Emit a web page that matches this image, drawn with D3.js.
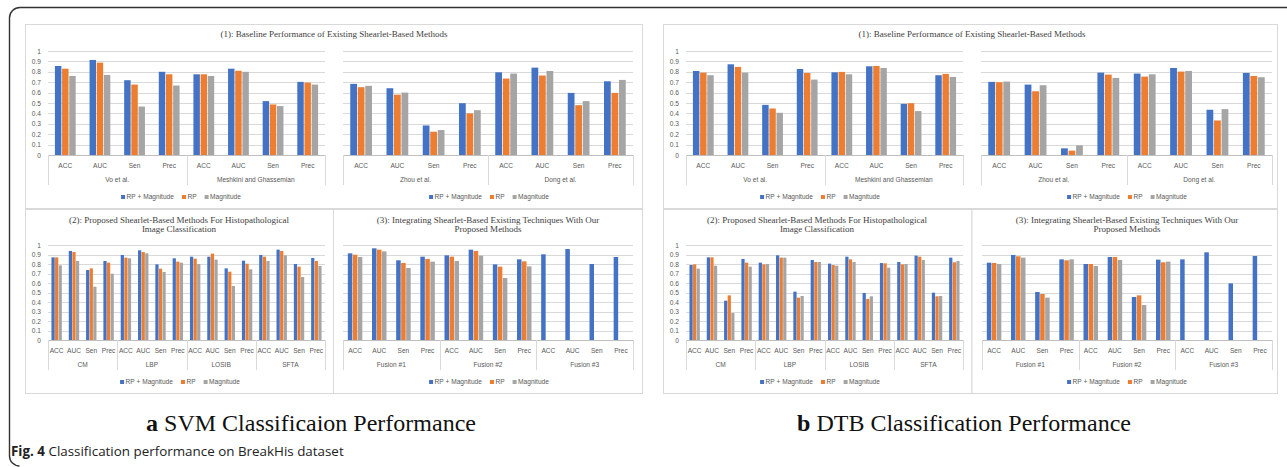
<!DOCTYPE html>
<html><head><meta charset="utf-8">
<script src="https://cdn.jsdelivr.net/npm/d3@7"></script>
<style>
html,body{margin:0;padding:0;background:#fff;}
svg{display:block;}
</style></head><body>
<svg id="fig" width="1287" height="467"></svg>
<script>
// ---- categories, series and tick labels ----
const metrics = ["ACC", "AUC", "Sen", "Prec"];
const seriesNames = ["RP + Magnitude", "RP", "Magnitude"];
const yTickLabels = ["0", "0.1", "0.2", "0.3", "0.4", "0.5", "0.6", "0.7", "0.8", "0.9", "1"];

const baselineGroupsL = ["Vo et al.", "Meshkini and Ghassemian"];
const baselineGroupsR = ["Zhou et al.", "Dong et al."];
const proposedGroups = ["CM", "LBP", "LOSIB", "SFTA"];
const fusionGroups = ["Fusion #1", "Fusion #2", "Fusion #3"];

// ---- (a) SVM results ----
const svmBaseL_rpMag = [0.856, 0.914, 0.719, 0.800, 0.776, 0.830, 0.518, 0.703];
const svmBaseL_rp    = [0.830, 0.888, 0.677, 0.776, 0.776, 0.810, 0.486, 0.696];
const svmBaseL_mag   = [0.760, 0.770, 0.466, 0.668, 0.760, 0.800, 0.470, 0.677];

const svmBaseR_rpMag = [0.684, 0.642, 0.284, 0.498, 0.795, 0.840, 0.597, 0.709];
const svmBaseR_rp    = [0.652, 0.580, 0.224, 0.400, 0.735, 0.764, 0.479, 0.597];
const svmBaseR_mag   = [0.665, 0.600, 0.240, 0.431, 0.783, 0.808, 0.518, 0.722];

const svmProp_rpMag = [0.870, 0.937, 0.737, 0.832, 0.895, 0.944, 0.796, 0.860, 0.877, 0.877, 0.754, 0.835, 0.895, 0.951, 0.800, 0.863];
const svmProp_rp    = [0.870, 0.926, 0.754, 0.814, 0.867, 0.926, 0.751, 0.825, 0.856, 0.909, 0.719, 0.803, 0.877, 0.937, 0.772, 0.832];
const svmProp_mag   = [0.786, 0.832, 0.561, 0.698, 0.860, 0.912, 0.716, 0.814, 0.800, 0.846, 0.568, 0.744, 0.832, 0.891, 0.663, 0.779];

const svmFus_rpMag = [0.912, 0.965, 0.839, 0.877, 0.891, 0.951, 0.796, 0.849, 0.902, 0.958, 0.800, 0.874];
const svmFus_rp    = [0.898, 0.951, 0.811, 0.853, 0.877, 0.937, 0.772, 0.828, null, null, null, null];
const svmFus_mag   = [0.874, 0.933, 0.758, 0.825, 0.832, 0.888, 0.653, 0.775, null, null, null, null];

// ---- (b) DTB results ----
const dtbBaseL_rpMag = [0.808, 0.872, 0.482, 0.827, 0.795, 0.853, 0.492, 0.767];
const dtbBaseL_rp    = [0.792, 0.847, 0.447, 0.789, 0.799, 0.856, 0.498, 0.780];
const dtbBaseL_mag   = [0.767, 0.792, 0.406, 0.725, 0.776, 0.837, 0.422, 0.751];

const dtbBaseR_rpMag = [0.703, 0.677, 0.064, 0.792, 0.783, 0.837, 0.435, 0.789];
const dtbBaseR_rp    = [0.700, 0.613, 0.042, 0.773, 0.754, 0.802, 0.332, 0.760];
const dtbBaseR_mag   = [0.706, 0.671, 0.093, 0.741, 0.776, 0.808, 0.441, 0.748];

const dtbProp_rpMag = [0.789, 0.870, 0.414, 0.853, 0.814, 0.891, 0.509, 0.842, 0.804, 0.877, 0.495, 0.810, 0.821, 0.888, 0.498, 0.867];
const dtbProp_rp    = [0.796, 0.870, 0.470, 0.814, 0.796, 0.867, 0.446, 0.821, 0.789, 0.849, 0.432, 0.807, 0.796, 0.877, 0.460, 0.818];
const dtbProp_mag   = [0.751, 0.782, 0.284, 0.772, 0.800, 0.867, 0.463, 0.821, 0.782, 0.821, 0.460, 0.761, 0.800, 0.842, 0.463, 0.832];

const dtbFus_rpMag = [0.814, 0.895, 0.505, 0.849, 0.800, 0.874, 0.453, 0.846, 0.849, 0.923, 0.596, 0.884];
const dtbFus_rp    = [0.811, 0.881, 0.484, 0.839, 0.800, 0.874, 0.470, 0.818, null, null, null, null];
const dtbFus_mag   = [0.800, 0.867, 0.446, 0.849, 0.779, 0.842, 0.368, 0.825, null, null, null, null];

// ---- styling ----
const colors = ["#4472C4", "#ED7D31", "#A5A5A5"];
const gridColor = "#d9d9d9";
const labelColor = "#595959";
const sansFont = "'Liberation Sans', Arial, sans-serif";
const serifFont = "'Liberation Serif', 'Times New Roman', serif";

const svg = d3.select("#fig");

// figure frame (top rule and rounded left edge)
svg.append("path")
  .attr("d", "M1287,7.5 H20 A10.5,10.5 0 0 0 9.5,18 V456 A10,10 0 0 0 19.5,466")
  .attr("fill", "none").attr("stroke", "#333").attr("stroke-width", 1.4);

// chart-area boxes of each panel
const boxes = [
  [25.5, 24.5, 617, 184], [25.5, 209.5, 308, 184], [333.5, 209.5, 309, 184],
  [663.5, 24.5, 614, 184], [663.5, 209.5, 308.5, 184], [972, 209.5, 305.5, 184]
];
boxes.forEach(b => {
  svg.append("rect").attr("x", b[0]).attr("y", b[1]).attr("width", b[2]).attr("height", b[3])
    .attr("fill", "#fff").attr("stroke", gridColor).attr("stroke-width", 1);
});

// one clustered bar plot with a two-level category axis
function drawPlot(cfg) {
  const g = svg.append("g");
  const keys = [];
  cfg.groups.forEach(gr => metrics.forEach(m => keys.push(gr + "|" + m)));

  const x = d3.scaleBand().domain(keys).range([cfg.x0, cfg.x1]).paddingInner(0).paddingOuter(0);
  const bw = x.bandwidth();
  const xs = d3.scaleBand().domain(seriesNames).range([bw * 0.2, bw * 0.8]).paddingInner(0.1);
  const y = d3.scaleLinear().domain([0, 1]).range([cfg.yBottom, cfg.yTop]);
  const tickVals = yTickLabels.map(Number);

  // gridlines
  g.selectAll("line.grid").data(tickVals).enter().append("line")
    .attr("x1", cfg.x0).attr("x2", cfg.x1)
    .attr("y1", d => Math.round(y(d)) + 0.5).attr("y2", d => Math.round(y(d)) + 0.5)
    .attr("stroke", d => d === 0 ? "#bfbfbf" : gridColor).attr("stroke-width", 1);

  // y axis labels
  if (cfg.yAxis) {
    const ax = g.append("g").attr("transform", `translate(${cfg.x0},0)`)
      .call(d3.axisLeft(y).tickValues(tickVals).tickSize(0).tickPadding(7)
        .tickFormat((d, i) => yTickLabels[i]));
    ax.select(".domain").remove();
    ax.selectAll("text").attr("fill", labelColor).style("font-family", sansFont).style("font-size", "6.6px");
  }

  // bars
  seriesNames.forEach((s, si) => {
    g.selectAll("rect.s" + si).data(cfg.values[si].map((v, i) => ({ k: keys[i], v })).filter(d => d.v != null))
      .enter().append("rect")
      .attr("x", d => x(d.k) + xs(s)).attr("width", xs.bandwidth())
      .attr("y", d => y(d.v)).attr("height", d => y(0) - y(d.v))
      .attr("fill", colors[si]);
  });

  // first-level category labels
  const cax = g.append("g").attr("transform", `translate(0,${cfg.yBottom})`)
    .call(d3.axisBottom(x).tickSize(0).tickPadding(0).tickFormat(k => k.split("|")[1]));
  cax.select(".domain").remove();
  cax.selectAll("text").attr("y", 10.8).attr("dy", "0.35em")
    .attr("fill", labelColor).style("font-family", sansFont).style("font-size", "6.6px");

  // group separators and group labels
  const bounds = [cfg.x0];
  cfg.groups.forEach(gr => bounds.push(x(gr + "|" + metrics[3]) + bw));
  g.selectAll("line.sep").data(bounds).enter().append("line")
    .attr("x1", d => Math.round(d) + 0.5).attr("x2", d => Math.round(d) + 0.5)
    .attr("y1", cfg.yBottom).attr("y2", cfg.yBottom + 30)
    .attr("stroke", gridColor).attr("stroke-width", 1);
  g.selectAll("text.grp").data(cfg.groups).enter().append("text")
    .attr("x", (d, i) => (bounds[i] + bounds[i + 1]) / 2)
    .attr("y", cfg.yBottom + 25).attr("dy", "0.35em")
    .attr("text-anchor", "middle").attr("fill", labelColor)
    .style("font-family", sansFont).style("font-size", "6.6px")
    .text(d => d);

  // legend, centred on legendX
  const lg = g.append("g");
  let cx = 0;
  seriesNames.forEach((s, si) => {
    lg.append("rect").attr("x", cx).attr("y", -2).attr("width", 4).attr("height", 4).attr("fill", colors[si]);
    const t = lg.append("text").attr("x", cx + 5.5).attr("y", 0).attr("dy", "0.35em")
      .attr("fill", labelColor).style("font-family", sansFont).style("font-size", "6.6px").text(s);
    cx += 5.5 + t.node().getComputedTextLength() + 8;
  });
  const lw = cx - 8;
  lg.attr("transform", `translate(${cfg.legendX - lw / 2},${cfg.yBottom + 42})`);
}

function chartTitle(lines, cxPos, y0) {
  lines.forEach((line, i) => {
    svg.append("text").attr("x", cxPos).attr("y", y0 + i * 9.2).attr("dy", "0.35em")
      .attr("text-anchor", "middle").attr("fill", "#404040")
      .style("font-family", serifFont).style("font-size", "9px").text(line);
  });
}

const topRow = { yTop: 51, yBottom: 155 };
const lowRow = { yTop: 245, yBottom: 340 };

// panel (a): SVM
chartTitle(["(1): Baseline Performance of Existing Shearlet-Based Methods"], 334, 34);
drawPlot({ ...topRow, x0: 48, x1: 325, groups: baselineGroupsL, values: [svmBaseL_rpMag, svmBaseL_rp, svmBaseL_mag], yAxis: true, legendX: 181 });
drawPlot({ ...topRow, x0: 343, x1: 633, groups: baselineGroupsR, values: [svmBaseR_rpMag, svmBaseR_rp, svmBaseR_mag], yAxis: false, legendX: 489 });
chartTitle(["(2): Proposed Shearlet-Based Methods For Histopathological", "Image Classification"], 179, 220);
drawPlot({ ...lowRow, x0: 48, x1: 325, groups: proposedGroups, values: [svmProp_rpMag, svmProp_rp, svmProp_mag], yAxis: true, legendX: 180 });
chartTitle(["(3): Integrating Shearlet-Based Existing Techniques With Our", "Proposed Methods"], 488, 220);
drawPlot({ ...lowRow, x0: 343, x1: 633, groups: fusionGroups, values: [svmFus_rpMag, svmFus_rp, svmFus_mag], yAxis: false, legendX: 489 });

// panel (b): DTB
chartTitle(["(1): Baseline Performance of Existing Shearlet-Based Methods"], 972, 34);
drawPlot({ ...topRow, x0: 686, x1: 963, groups: baselineGroupsL, values: [dtbBaseL_rpMag, dtbBaseL_rp, dtbBaseL_mag], yAxis: true, legendX: 820 });
drawPlot({ ...topRow, x0: 981, x1: 1272, groups: baselineGroupsR, values: [dtbBaseR_rpMag, dtbBaseR_rp, dtbBaseR_mag], yAxis: false, legendX: 1127 });
chartTitle(["(2): Proposed Shearlet-Based Methods For Histopathological", "Image Classification"], 817, 220);
drawPlot({ ...lowRow, x0: 686, x1: 963, groups: proposedGroups, values: [dtbProp_rpMag, dtbProp_rp, dtbProp_mag], yAxis: true, legendX: 820 });
chartTitle(["(3): Integrating Shearlet-Based Existing Techniques With Our", "Proposed Methods"], 1127, 220);
drawPlot({ ...lowRow, x0: 982, x1: 1272, groups: fusionGroups, values: [dtbFus_rpMag, dtbFus_rp, dtbFus_mag], yAxis: false, legendX: 1127 });

// sub-captions
function subCaption(letter, text, cxPos, y) {
  const t = svg.append("text").attr("x", cxPos).attr("y", y).attr("dy", "0.35em").attr("text-anchor", "middle")
    .attr("fill", "#111").style("font-family", serifFont).style("font-size", "24px");
  t.append("tspan").style("font-weight", "bold").text(letter);
  t.append("tspan").text(" " + text);
}
subCaption("a", "SVM Classificaion Performance", 311, 423);
subCaption("b", "DTB Classification Performance", 964, 423);

// figure caption
const cap = svg.append("text").attr("x", 11).attr("y", 451).attr("dy", "0.35em")
  .attr("fill", "#222").style("font-family", "'Open Sans', sans-serif").style("font-size", "13.4px");
cap.append("tspan").style("font-weight", "bold").text("Fig. 4");
cap.append("tspan").text("  Classification performance on BreakHis dataset");
</script>
</body></html>
